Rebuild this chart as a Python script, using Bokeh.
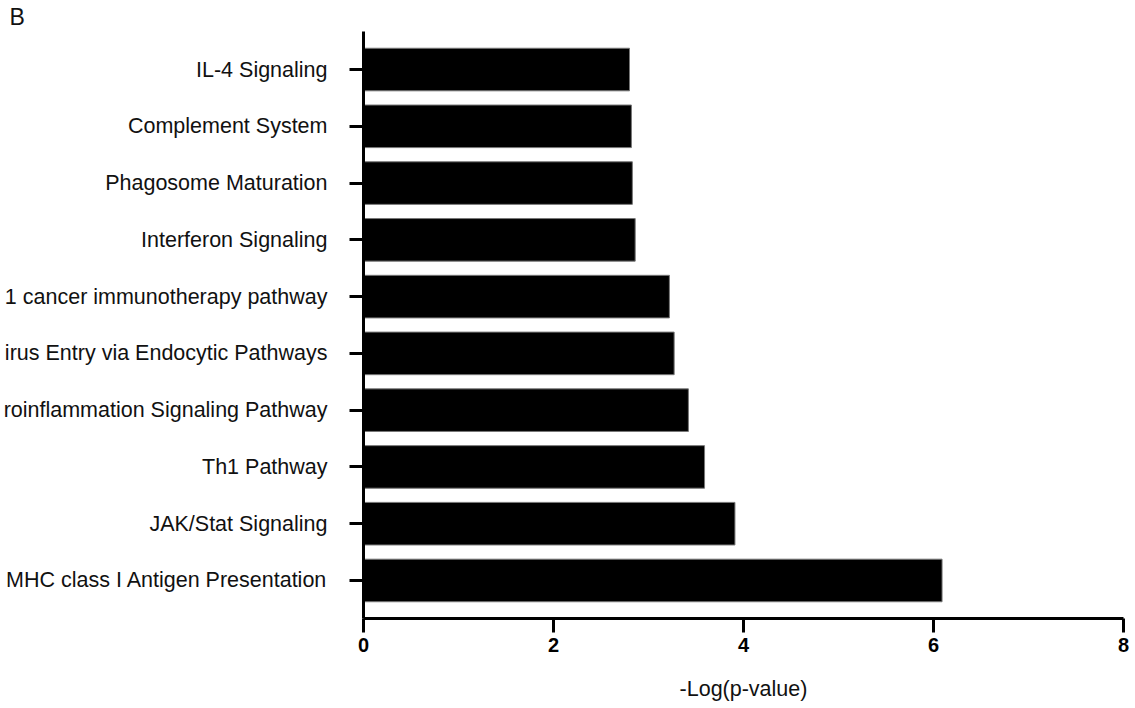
from bokeh.plotting import figure
from bokeh.models import FactorRange, Range1d, FixedTicker, Title
from bokeh.embed import file_html
from bokeh.resources import INLINE

# Data (top to bottom as shown)
pathways = [
    "IL-4 Signaling",
    "Complement System",
    "Phagosome Maturation",
    "Interferon Signaling",
    "1 cancer immunotherapy pathway",
    "irus Entry via Endocytic Pathways",
    "roinflammation Signaling Pathway",
    "Th1 Pathway",
    "JAK/Stat Signaling",
    "MHC class I Antigen Presentation",
]
neg_log_p = [2.80, 2.82, 2.83, 2.86, 3.22, 3.27, 3.42, 3.59, 3.91, 6.09]
x_ticks = [0, 2, 4, 6, 8]
x_title = "-Log(p-value)"
panel_letter = "B"

FONT = "Liberation Sans"

factors = list(reversed(pathways))  # first factor at bottom

p = figure(
    y_range=FactorRange(factors=factors, range_padding=0.17, range_padding_units="absolute"),
    x_range=Range1d(0, 8),
    frame_width=760, frame_height=587,
    min_border_left=354, min_border_right=10, min_border_top=30, min_border_bottom=86,
    output_backend="svg", toolbar_location=None,
)
p.title = Title(text=panel_letter, align="left", offset=-354, standoff=3,
                text_font=FONT, text_font_size="23px", text_font_style="normal",
                text_color="#111111")

p.hbar(y=pathways, right=neg_log_p, left=0, height=0.75,
       fill_color="black", line_color="#777777", line_width=1)

p.outline_line_color = None
p.xgrid.visible = False
p.ygrid.visible = False
p.background_fill_color = "white"
p.border_fill_color = "white"

# x axis
xa = p.xaxis[0]
xa.ticker = FixedTicker(ticks=x_ticks)
xa.axis_line_width = 3
xa.axis_line_color = "black"
xa.major_tick_line_width = 3
xa.major_tick_line_color = "black"
xa.major_tick_out = 14
xa.major_tick_in = 0
xa.minor_tick_line_color = None
xa.major_label_text_font = FONT
xa.major_label_text_font_style = "bold"
xa.major_label_text_font_size = "20px"
xa.major_label_text_color = "black"
xa.major_label_standoff = 5
xa.axis_label = x_title
xa.axis_label_text_font = FONT
xa.axis_label_text_font_style = "normal"
xa.axis_label_text_font_size = "21.5px"
xa.axis_label_text_color = "#111111"
xa.axis_label_standoff = 22

# y axis
ya = p.yaxis[0]
ya.axis_line_width = 3
ya.axis_line_color = "black"
ya.major_tick_line_width = 3
ya.major_tick_line_color = "black"
ya.major_tick_out = 14
ya.major_tick_in = 0
ya.minor_tick_line_color = None
ya.major_label_text_font = FONT
ya.major_label_text_font_size = "21.5px"
ya.major_label_text_color = "#111111"
ya.major_label_standoff = 22

open("out.html", "w").write(file_html(p, INLINE))
